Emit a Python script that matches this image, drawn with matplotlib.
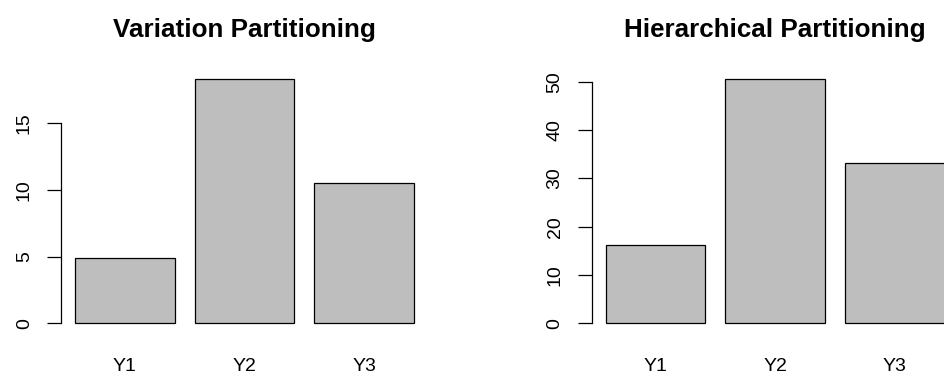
import matplotlib.pyplot as plt

plt.rcParams['font.family'] = ['Liberation Sans', 'DejaVu Sans']

groups = ["Y1", "Y2", "Y3"]
vp_values = [4.92, 18.32, 10.55]
hp_values = [16.27, 50.55, 33.10]
vp_ticks = [0, 5, 10, 15]
hp_ticks = [0, 10, 20, 30, 40, 50]

fig = plt.figure(figsize=(9.44, 3.8), dpi=100)
ax1 = fig.add_axes([0.0650, 0.1234, 0.3879, 0.6945])
ax2 = fig.add_axes([0.6271, 0.1234, 0.3879, 0.6945])


def r_barplot(ax, values, ticks, title):
    # barplot() layout: width 1, space 0.2
    pos = [0.2 + 1.2 * i + 0.5 for i in range(len(values))]
    ax.bar(pos, values, width=1.0, color="#bebebe", edgecolor="black",
           linewidth=0.9)
    ax.set_xlim(0.2 - 0.04 * 3.4, 3.6 + 0.04 * 3.4)
    top = max(values)
    ax.set_ylim(-0.04 * top, 1.04 * top)

    for s in ["top", "right", "bottom"]:
        ax.spines[s].set_visible(False)
    ax.spines["left"].set_bounds(ticks[0], ticks[-1])
    ax.spines["left"].set_linewidth(0.9)

    ax.set_yticks(ticks)
    ax.set_yticklabels([str(t) for t in ticks])
    ax.tick_params(axis="y", direction="out", length=10, width=0.9,
                   pad=10.5, labelsize=14)
    plt.setp(ax.get_yticklabels(), rotation=90, va="center")

    ax.set_xticks(pos)
    ax.set_xticklabels(groups)
    ax.tick_params(axis="x", length=0, pad=18, labelsize=14)

    ax.set_title(title, fontsize=18.7, fontweight="bold", pad=23.4)


r_barplot(ax1, vp_values, vp_ticks, "Variation Partitioning")
r_barplot(ax2, hp_values, hp_ticks, "Hierarchical Partitioning")

fig.savefig("out.png", dpi=100)
